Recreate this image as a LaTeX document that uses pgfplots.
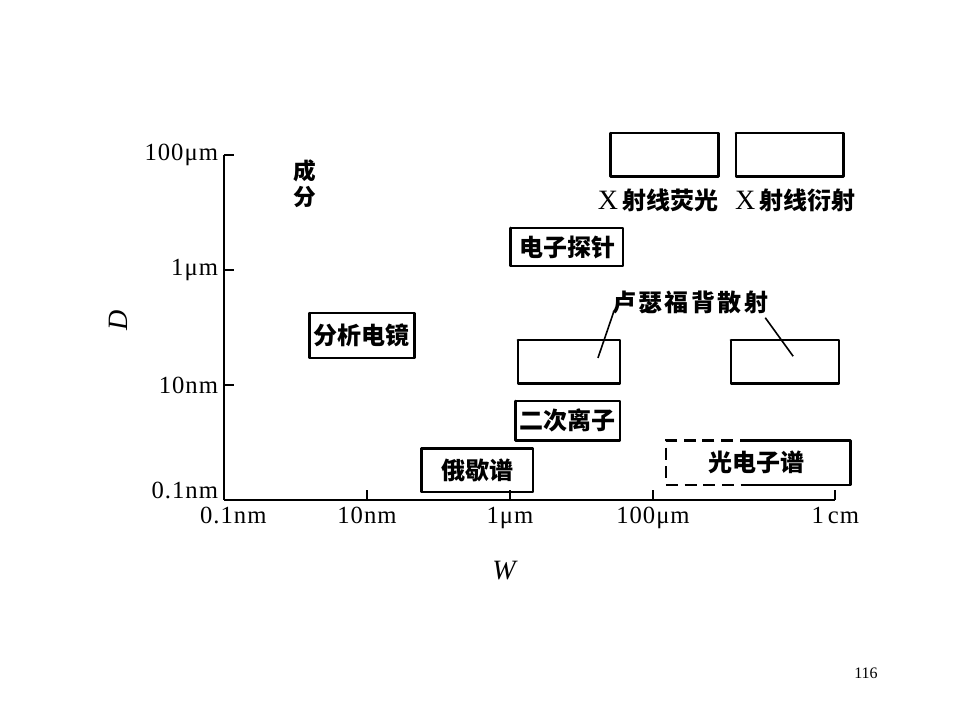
\documentclass[border=0pt]{standalone}
\usepackage{pgfplots}
\pgfplotsset{compat=1.18}
\usepackage{fontspec}
\setmainfont{Liberation Serif}
\newfontfamily\cjk{Noto Sans CJK SC}
\newcommand{\cj}{\cjk\bfseries\fontsize{18}{20}\selectfont}
\newcommand{\tl}{\addfontfeature{LetterSpace=4}\fontsize{18.5}{20}\selectfont}
\begin{document}
\begin{tikzpicture}[x=0.75pt,y=0.75pt]
\path (-224,-220) rectangle (736,500);
\begin{axis}[at={(0,0)}, anchor=south west,
  x=53.625pt, y=43.125pt,
  xmin=-1, xmax=7.55, ymin=-1, ymax=5,
  axis lines=left, axis line style={-, line width=1.5pt},
  clip=false, tick align=inside, major tick length=7.5pt,
  every tick/.style={black, line width=1.5pt},
  xtick={1,3,5,7.55}, xticklabels={10nm,1μm,100μm,1\,cm},
  ytick={1,3,5}, yticklabels={10nm,1μm,100μm},
  extra x ticks={-0.87}, extra x tick labels={0.1nm},
  extra y ticks={-0.83}, extra y tick labels={0.1nm},
  extra tick style={major tick length=0pt},
  tick label style={font=\tl},
  xticklabel style={yshift=-2pt},
  yticklabel style={xshift=-1pt},
  xlabel={\textit{W}}, ylabel={\textit{D}},
  xlabel style={at={(axis cs:2.93,-2.22)}, anchor=center, font=\fontsize{21}{22}\selectfont},
  ylabel style={at={(axis cs:-2.48,2.13)}, anchor=center, font=\fontsize{21}{22}\selectfont},
]
% boxes
\addplot[line width=2pt, line join=round, line cap=round] coordinates {(4.41,5.38)(5.92,5.38)(5.92,4.63)(4.41,4.63)(4.41,5.38)};
\addplot[line width=2pt, line join=round, line cap=round] coordinates {(6.16,5.38)(7.66,5.38)(7.66,4.63)(6.16,4.63)(6.16,5.38)};
\addplot[line width=2pt, line join=round, line cap=round] coordinates {(3.01,3.73)(4.58,3.73)(4.58,3.07)(3.01,3.07)(3.01,3.73)};
\addplot[line width=2pt, line join=round, line cap=round] coordinates {(3.11,1.78)(4.54,1.78)(4.54,1.03)(3.11,1.03)(3.11,1.78)};
\addplot[line width=2pt, line join=round, line cap=round] coordinates {(6.09,1.78)(7.60,1.78)(7.60,1.03)(6.09,1.03)(6.09,1.78)};
\addplot[line width=2pt, line join=round, line cap=round] coordinates {(0.20,2.25)(1.66,2.25)(1.66,1.47)(0.20,1.47)(0.20,2.25)};
\addplot[line width=2pt, line join=round, line cap=round] coordinates {(3.08,0.72)(4.54,0.72)(4.54,0.04)(3.08,0.04)(3.08,0.72)};
\addplot[line width=2pt, line join=round, line cap=round] coordinates {(1.76,-0.11)(3.32,-0.11)(3.32,-0.86)(1.76,-0.86)(1.76,-0.11)};
% photoelectron: dashed left part, solid right part
\addplot[line width=2pt, dash pattern=on 9pt off 5pt] coordinates {(6.38,0.04)(5.18,0.04)(5.18,-0.74)(6.38,-0.74)};
\addplot[line width=2pt, line join=round, line cap=round] coordinates {(6.38,-0.74)(7.76,-0.74)(7.76,0.04)(6.38,0.04)};
% leader lines
\addplot[line width=1.2pt] coordinates {(4.45,2.27)(4.23,1.47)};
\addplot[line width=1.2pt] coordinates {(6.57,2.17)(6.96,1.50)};
% texts
\node[font=\cj] at (axis cs:0.93,1.86) {分析电镜};
\node[font=\cj] at (axis cs:3.80,3.40) {电子探针};
\node[font=\cj] at (axis cs:3.81,0.38) {二次离子};
\node[font=\cj] at (axis cs:2.54,-0.49) {俄歇谱};
\node[font=\cj] at (axis cs:6.45,-0.35) {光电子谱};
\node[font=\cj\addfontfeature{LetterSpace=10}] at (axis cs:5.52,2.43) {卢瑟福背散射};
\node[font=\cj] at (axis cs:5.07,4.22) {{\normalfont\fontsize{21}{22}\selectfont X}\,射线荧光};
\node[font=\cj] at (axis cs:6.99,4.22) {{\normalfont\fontsize{21}{22}\selectfont X}\,射线衍射};
\node[font=\cjk\bfseries\fontsize{17}{19}\selectfont, align=center] at (axis cs:0.13,4.50) {成\\分};
\end{axis}
\node[font=\fontsize{12}{14}\selectfont] at (642,-173) {116};
\end{tikzpicture}
\end{document}
